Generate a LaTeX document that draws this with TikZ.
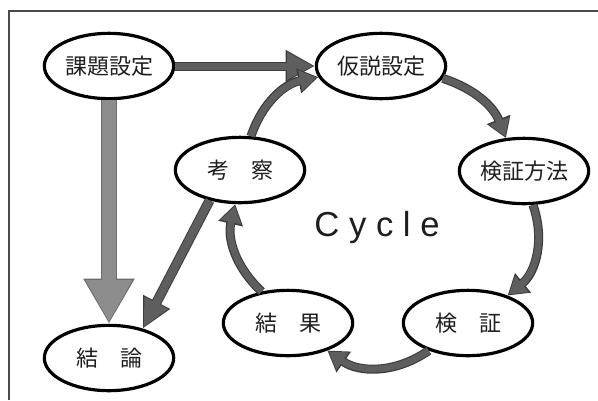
\documentclass[tikz,border=0pt]{standalone}
\usepackage{fontspec}
\newfontfamily\jpfont{Noto Sans CJK JP}
\newfontfamily\cyclefont{Liberation Sans}
\usetikzlibrary{shapes.geometric,arrows.meta}
\definecolor{arrowedge}{HTML}{3C3C3C}
\definecolor{arrowfill}{HTML}{5E5E5E}
\definecolor{lightedge}{HTML}{6C6C6C}
\definecolor{lightfill}{HTML}{8C8C8C}
\definecolor{framegray}{HTML}{4A4A4A}
\definecolor{textdark}{HTML}{1E1E1E}
\tikzset{
  bubble/.style={ellipse, draw=black, line width=2.4pt, fill=white,
    minimum width=97pt, minimum height=49pt, inner sep=0pt,
    font=\jpfont\fontsize{16.5}{18}\selectfont, text=textdark},
  fat/.style n args={8}{
    preaction={draw=#8, line width=#2, -{Triangle[length=#5, width=#6]}, shorten >=0pt},
    draw=#7, line width=#1, -{Triangle[length=#3, width=#4]}, shorten >=1.3pt},
  cyc/.style={fat={5pt}{6.75pt}{12.5pt}{15pt}{15pt}{18pt}{arrowfill}{arrowedge}},
}
\begin{document}
\begin{tikzpicture}[x=0.75pt,y=0.75pt]
\useasboundingbox (0,0) rectangle (598,-400);
\fill[white] (0,0) rectangle (598,-400);
\draw[framegray, line width=1pt] (9,-400) -- (9,-11) -- (598,-11);

\node[bubble] (task) at (109,-66) {課題設定};
\node[bubble] (hyp) at (381,-66) {仮説設定};
\node[bubble] (meth) at (524,-171) {検証方法};
\node[bubble] (consider) at (240,-170) {考　察};
\node[bubble] (result) at (288,-323) {結　果};
\node[bubble] (verify) at (468,-323) {検　証};
\node[bubble] (concl) at (109,-358) {結　論};
\node[font=\cyclefont\fontsize{26}{30}\selectfont, text=textdark] (cycle) at (377,-228) {C y c l e};

\draw[fat={5.25pt}{6.75pt}{19.5pt}{19.5pt}{21.75pt}{22.5pt}{arrowfill}{arrowedge}] (task) -- (hyp);
\draw[fat={10.5pt}{12pt}{31.5pt}{33pt}{33.75pt}{36pt}{lightfill}{lightedge}] (task) -- (concl);
\draw[fat={6pt}{7.5pt}{20.5pt}{18.5pt}{22.5pt}{21pt}{arrowfill}{arrowedge}] (consider.225) -- (concl.41);

\draw[cyc] (hyp) to[bend left=25] (meth);
\draw[cyc] (meth) to[bend left=35] (verify);
\draw[cyc] (verify) to[bend left=35] (result);
\draw[cyc] (result.130) to[bend left=30] (consider.262);
\draw[cyc] (consider.72) to[bend left=30] (hyp.190);
\end{tikzpicture}
\end{document}
